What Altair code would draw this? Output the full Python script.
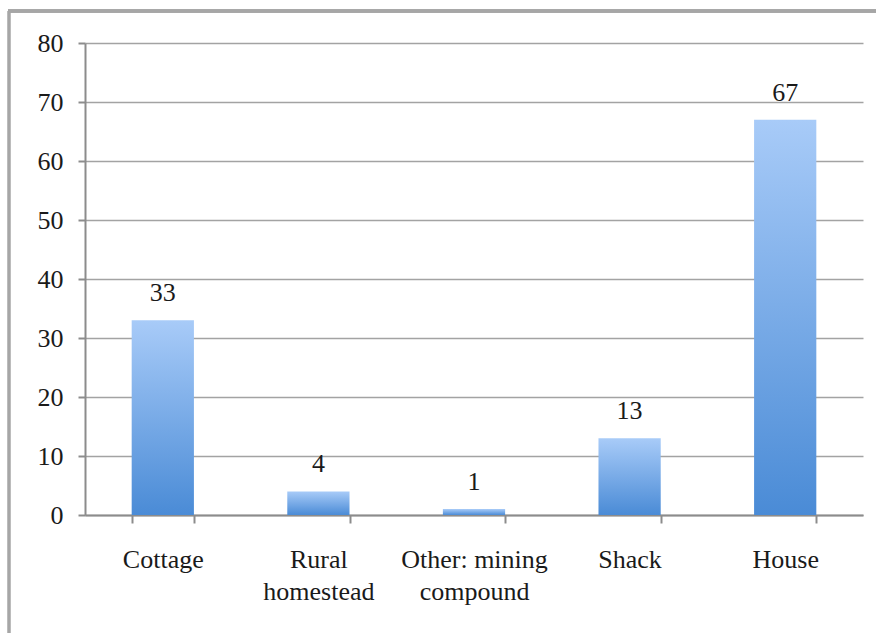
import altair as alt
import pandas as pd

# Dwelling types and counts
categories = ["Cottage", "Rural homestead", "Other: mining compound", "Shack", "House"]
counts = [33, 4, 1, 13, 67]
# How each category label wraps onto lines under the axis
label_lines = [["Cottage"], ["Rural", "homestead"], ["Other: mining", "compound"], ["Shack"], ["House"]]
y_ticks = [0, 10, 20, 30, 40, 50, 60, 70, 80]

df = pd.DataFrame({"category": categories, "count": counts})

FONT = "Liberation Serif"
FONT_SIZE = 26
GRID = "#a3a3a3"

# Build a label expression that maps each category to its wrapped lines
label_expr = "".join(
    f"datum.label == {cat!r} ? {lines!r} : " for cat, lines in zip(categories, label_lines)
) + "datum.label"

x_enc = alt.X(
    "category:N",
    sort=categories,
    title=None,
    scale=alt.Scale(paddingInner=0.6, paddingOuter=0.3),
    axis=alt.Axis(
        labelAngle=0,
        labelExpr=label_expr,
        labelFont=FONT,
        labelFontSize=FONT_SIZE,
        labelColor="#1a1a1a",
        labelLineHeight=32,
        labelPadding=23,
        labelBaseline="top",
        tickBand="extent",
        tickSize=8,
        tickColor="#8c8c8c",
        tickWidth=2,
        domainColor="#8c8c8c",
        domainWidth=2,
        grid=False,
    ),
)

y_enc = alt.Y(
    "count:Q",
    title=None,
    scale=alt.Scale(domain=[0, 80], nice=False),
    axis=alt.Axis(
        values=y_ticks,
        labelFont=FONT,
        labelFontSize=FONT_SIZE,
        labelColor="#1a1a1a",
        labelPadding=15,
        tickSize=7,
        tickColor="#8c8c8c",
        tickWidth=2,
        domainColor="#8c8c8c",
        domainWidth=2,
        gridColor=GRID,
        gridWidth=1.6,
    ),
)

bar_fill = alt.Gradient(
    gradient="linear",
    x1=0, x2=0, y1=0, y2=1,
    stops=[
        alt.GradientStop(color="#a8cbf8", offset=0),
        alt.GradientStop(color="#4a8bd6", offset=1),
    ],
)

bars = alt.Chart(df).mark_bar(color=bar_fill).encode(x=x_enc, y=y_enc)

labels = alt.Chart(df).mark_text(
    font=FONT, fontSize=FONT_SIZE, color="#1a1a1a", baseline="alphabetic", dy=-19
).encode(x=alt.X("category:N", sort=categories), y="count:Q", text="count:Q")

# Outer frame lines (left and top edges)
frame_left = alt.Chart(df).mark_rule(color="#a6a6a6", strokeWidth=2.5).encode(
    x=alt.value(-76), y=alt.value(-32), y2=alt.value(700)
)
frame_top = alt.Chart(df).mark_rule(color="#a6a6a6", strokeWidth=3).encode(
    x=alt.value(-77), x2=alt.value(900), y=alt.value(-32)
)

chart = (
    alt.layer(frame_left, frame_top, bars, labels)
    .properties(
        width=778,
        height=472,
        padding={"left": 85, "top": 43, "right": 13, "bottom": 118},
        autosize=alt.AutoSizeParams(type="none"),
        background="white",
    )
    .configure_view(stroke=None)
)

chart.save("out.html", embed_options={"renderer": "svg", "actions": False})
